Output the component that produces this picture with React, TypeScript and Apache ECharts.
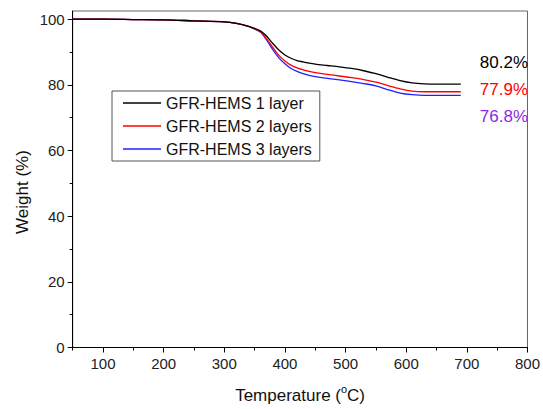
import React, { useEffect, useRef } from "react";
import * as echarts from "echarts";

const temps = [50, 100, 150, 200, 250, 300, 320, 340, 350, 360, 370, 380, 390, 400, 410, 420, 430, 440, 450, 470, 490, 510, 530, 550, 570, 590, 610, 630, 650, 670, 690];
const layer1 = [100, 100, 99.9, 99.8, 99.5, 99.2, 98.7, 97.8, 97.2, 96.4, 94.8, 92.6, 90.6, 89.1, 88.1, 87.4, 87.0, 86.6, 86.3, 85.9, 85.5, 85.0, 84.3, 83.4, 82.3, 81.3, 80.6, 80.3, 80.2, 80.2, 80.2];
const layer2 = [100, 100, 99.9, 99.8, 99.5, 99.2, 98.7, 97.8, 97.1, 96.2, 94.0, 91.4, 89.0, 87.3, 86.0, 85.2, 84.6, 84.1, 83.7, 83.2, 82.7, 82.2, 81.6, 80.8, 79.8, 78.8, 78.1, 77.9, 77.9, 77.9, 77.9];
const layer3 = [100, 100, 99.9, 99.8, 99.5, 99.2, 98.7, 97.8, 97.0, 96.0, 93.6, 90.7, 88.2, 86.4, 85.0, 84.1, 83.4, 82.9, 82.5, 82.0, 81.5, 81.0, 80.4, 79.7, 78.5, 77.5, 77.0, 76.8, 76.8, 76.8, 76.8];
const seriesNames = ["GFR-HEMS 1 layer", "GFR-HEMS 2 layers", "GFR-HEMS 3 layers"];
const seriesColors = ["#000000", "#ff0000", "#2020ff"];
const xMajor = [100, 200, 300, 400, 500, 600, 700, 800];
const xMinor = [50, 150, 250, 350, 450, 550, 650, 750];
const yMajor = [0, 20, 40, 60, 80, 100];
const yMinor = [10, 30, 50, 70, 90];
const endLabels = ["80.2%", "77.9%", "76.8%"];
const endLabelColors = ["#000000", "#ff0000", "#8a2be2"];

export default function App() {
  const ref = useRef<HTMLDivElement>(null);
  useEffect(() => {
    if (!ref.current) return;
    const chart = echarts.init(ref.current, null, { renderer: "svg" });
    const font = "Arial, 'Liberation Sans', sans-serif";
    const mk = (d: number[]) => temps.map((t, i) => [t, d[i]]);
    const datas = [layer1, layer2, layer3];
    chart.setOption({
      animation: false,
      backgroundColor: "#ffffff",
      textStyle: { fontFamily: font },
      grid: { left: 72.7, right: 11.3, top: 11, bottom: 58.3, show: true, borderColor: "#666", borderWidth: 1 },
      legend: {
        orient: "vertical",
        left: 112,
        top: 91,
        padding: [3, 8, 3, 11],
        borderColor: "#555",
        borderWidth: 1,
        itemGap: 5,
        itemWidth: 38,
        itemHeight: 1.5,
        icon: "rect",
        textStyle: { fontFamily: font, fontSize: 16, color: "#111", lineHeight: 18 },
        data: seriesNames,
      },
      xAxis: [
        {
          type: "value",
          min: 50,
          max: 800,
          position: "bottom",
          name: "{a|Temperature (}{b|o}{a|C)}",
          nameLocation: "middle",
          nameGap: 36,
          nameTextStyle: {
            rich: {
              a: { fontSize: 17, fontFamily: font, color: "#111" },
              b: { fontSize: 11, fontFamily: font, color: "#111", padding: [0, 0, 13, 0] },
            },
          },
          axisLine: { show: true, lineStyle: { color: "#000", width: 1 } },
          axisTick: { show: true, inside: false, length: 5, customValues: xMajor, lineStyle: { color: "#000" } },
          axisLabel: { customValues: xMajor, fontSize: 15, color: "#222", margin: 8, fontFamily: font },
          splitLine: { show: false },
        },
        {
          type: "value",
          min: 50,
          max: 800,
          position: "bottom",
          axisLine: { show: false },
          axisTick: { show: true, length: 3, customValues: xMinor, lineStyle: { color: "#000" } },
          axisLabel: { show: false },
          splitLine: { show: false },
        },
      ],
      yAxis: [
        {
          type: "value",
          min: 0,
          max: 102.5,
          position: "left",
          axisLine: { show: true, lineStyle: { color: "#000", width: 1 } },
          axisTick: { show: true, length: 5, customValues: yMajor, lineStyle: { color: "#000" } },
          axisLabel: { customValues: yMajor, fontSize: 15, color: "#222", margin: 8, fontFamily: font },
          splitLine: { show: false },
        },
        {
          type: "value",
          min: 0,
          max: 102.5,
          position: "left",
          axisLine: { show: false },
          axisTick: { show: true, length: 3, customValues: yMinor, lineStyle: { color: "#000" } },
          axisLabel: { show: false },
          splitLine: { show: false },
        },
      ],
      graphic: [
        {
          type: "text",
          x: 22,
          y: 192,
          rotation: Math.PI / 2,
          style: { text: "Weight (%)", font: `17px ${font}`, fill: "#111", align: "center", verticalAlign: "middle" },
        },
        ...endLabels.map((t, i) => ({
          type: "text",
          x: 528,
          y: [62.7, 89.3, 116][i],
          style: { text: t, font: `17px ${font}`, fill: endLabelColors[i], align: "right", verticalAlign: "middle" },
        })),
      ],
      series: datas.map((d, i) => ({
        name: seriesNames[i],
        type: "line",
        xAxisIndex: 0,
        yAxisIndex: 0,
        data: mk(d),
        smooth: 0.3,
        showSymbol: false,
        symbol: "none",
        lineStyle: { color: seriesColors[i], width: 1.3 },
        itemStyle: { color: seriesColors[i] },
        z: 3 - i,
      })),
    });
    return () => chart.dispose();
  }, []);
  return <div ref={ref} style={{ position: "fixed", left: 0, top: 0, width: 543, height: 409 }} />;
}
